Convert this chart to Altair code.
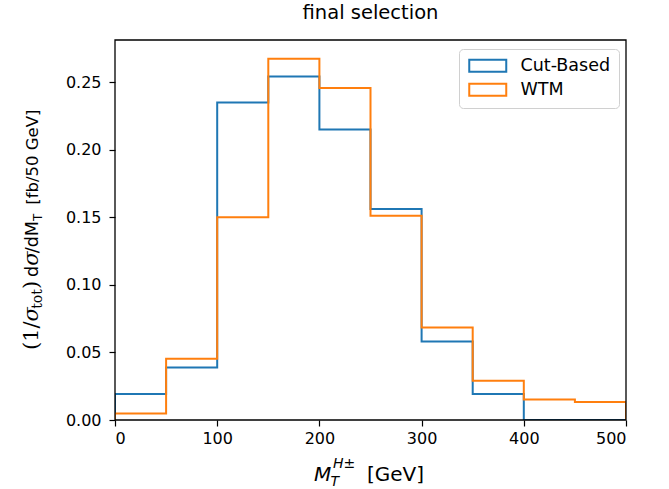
import altair as alt
import pandas as pd

# ---------------- data ----------------
bin_edges = [0, 50, 100, 150, 200, 250, 300, 350, 400, 450, 500]
cut_based = [0.0192, 0.0389, 0.2349, 0.2541, 0.2149, 0.1561, 0.0581, 0.0192, 0.0, 0.0]
wtm = [0.0049, 0.0453, 0.1499, 0.2672, 0.2456, 0.1511, 0.0685, 0.0291, 0.0152, 0.0133]
series_names = ["Cut-Based", "WTM"]
series_colors = ["#1f77b4", "#ff7f0e"]
x_ticks = [0, 100, 200, 300, 400, 500]
y_ticks = [0.0, 0.05, 0.10, 0.15, 0.20, 0.25]
title_text = "final selection"

# step-histogram outline vertices built from the bin values
rows = []
for name, vals in zip(series_names, [cut_based, wtm]):
    pts = [(bin_edges[0], 0.0)]
    for i, v in enumerate(vals):
        pts.append((bin_edges[i], v))
        pts.append((bin_edges[i + 1], v))
    pts.append((bin_edges[-1], 0.0))
    for k, (xx, yy) in enumerate(pts):
        rows.append({"series": name, "x": xx, "y": yy, "order": k})
df = pd.DataFrame(rows)

W, H = 511, 380
LEFT, TOP = 115, 40
one = pd.DataFrame({"a": [0]})

lines = alt.Chart(df).mark_line(strokeWidth=2, clip=True, strokeJoin="miter").encode(
    x=alt.X("x:Q", scale=alt.Scale(domain=[0, 500], nice=False, zero=False),
            axis=alt.Axis(values=x_ticks, title=None, grid=False, domain=False,
                          tickSize=6, tickWidth=1.2, tickColor="black",
                          labelFont="DejaVu Sans", labelFontSize=16, labelColor="black",
                          labelPadding=4, zindex=1)),
    y=alt.Y("y:Q", scale=alt.Scale(domain=[0, 0.2811], nice=False),
            axis=alt.Axis(values=y_ticks, format=".2f", title=None, grid=False, domain=False,
                          tickSize=6, tickWidth=1.2, tickColor="black",
                          labelFont="DejaVu Sans", labelFontSize=16, labelColor="black",
                          labelPadding=8, zindex=1)),
    color=alt.Color("series:N", scale=alt.Scale(domain=series_names, range=series_colors),
                    legend=alt.Legend(title=None, orient="none", legendX=344, legendY=9,
                                      symbolType="M-3.7,-1.2H3.7V1.2H-3.7Z", symbolSize=100,
                                      symbolStrokeWidth=2, symbolOffset=12, labelOffset=24,
                                      symbolFillColor="white",
                                      labelFont="DejaVu Sans", labelFontSize=17.5,
                                      labelColor="black", padding=8, rowPadding=3,
                                      strokeColor="#d0d0d0", cornerRadius=4,
                                      fillColor="white")),
    order="order:Q",
)

frame = alt.Chart(one).mark_rect(fillOpacity=0, stroke="black", strokeWidth=1.3).encode(
    x=alt.value(0), x2=alt.value(W), y=alt.value(0), y2=alt.value(H)
)

def txt(s, x, y, size, style="normal", font="DejaVu Sans", angle=0, align="left", dx=0, dy=0):
    return alt.Chart(one).mark_text(text=s, font=font, fontSize=size, fontStyle=style,
                                    angle=angle, align=align, baseline="alphabetic",
                                    dx=dx, dy=dy, color="black").encode(
        x=alt.value(x), y=alt.value(y))

layers = [lines, frame]

# title
layers.append(txt(title_text, W / 2, 19 - TOP, 19.5, align="center"))

# x-axis title  M_T^{H±} [GeV]
xb = 481 - TOP
x0 = 314 - LEFT
layers.append(txt("M", x0, xb, 20, style="italic"))
layers.append(txt("T", x0 + 16.5, xb + 5, 14, style="italic"))
layers.append(txt("H±", x0 + 19, xb - 13, 14, style="italic"))
layers.append(txt("[GeV]", x0 + 53, xb, 20))

# y-axis title, rotated pieces
em = {"(": .39, ")": .39, "1": .636, "/": .337, "σ": .6, "t": .401, "o": .602,
      " ": .318, "d": .635, "M": .863, "T": .611, "[": .39, "]": .39, "f": .352,
      "b": .635, "5": .636, "0": .636, "G": .775, "e": .615, "V": .684}
def wid(s, size):
    return sum(em.get(c, .6) for c in s) * size

# (text, size, style, font, baseline shift, gap after)
pieces = [
    ("(1/", 21, "normal", "DejaVu Serif", 0, 0),
    ("σ", 21, "italic", "DejaVu Serif", 0, 0),
    ("tot", 14, "normal", "DejaVu Serif", 4, 0),
    (")", 21, "normal", "DejaVu Serif", 0, 4),
    ("d", 17.5, "normal", "DejaVu Sans", 0, 0),
    ("σ", 21, "italic", "DejaVu Serif", 0, 0),
    ("/dM", 17.5, "normal", "DejaVu Sans", 0, 0),
    ("T", 12, "normal", "DejaVu Sans", 4, 9),
    ("[fb/50 GeV]", 16.5, "normal", "DejaVu Sans", 0, 0),
]
yl_x = 38 - LEFT
pos = 350 - TOP
for s, size, style, font, sub, gap in pieces:
    layers.append(txt(s, yl_x, pos, size, style=style, font=font, angle=270, dy=sub))
    pos -= wid(s, size) + gap

chart = alt.layer(*layers).properties(
    width=W, height=H,
    autosize=alt.AutoSizeParams(type="none"),
    padding={"left": LEFT, "top": TOP, "right": 669 - LEFT - W, "bottom": 489 - TOP - H},
).configure_view(stroke=None)

chart.save("out.html", embed_options={"renderer": "svg", "actions": False})
